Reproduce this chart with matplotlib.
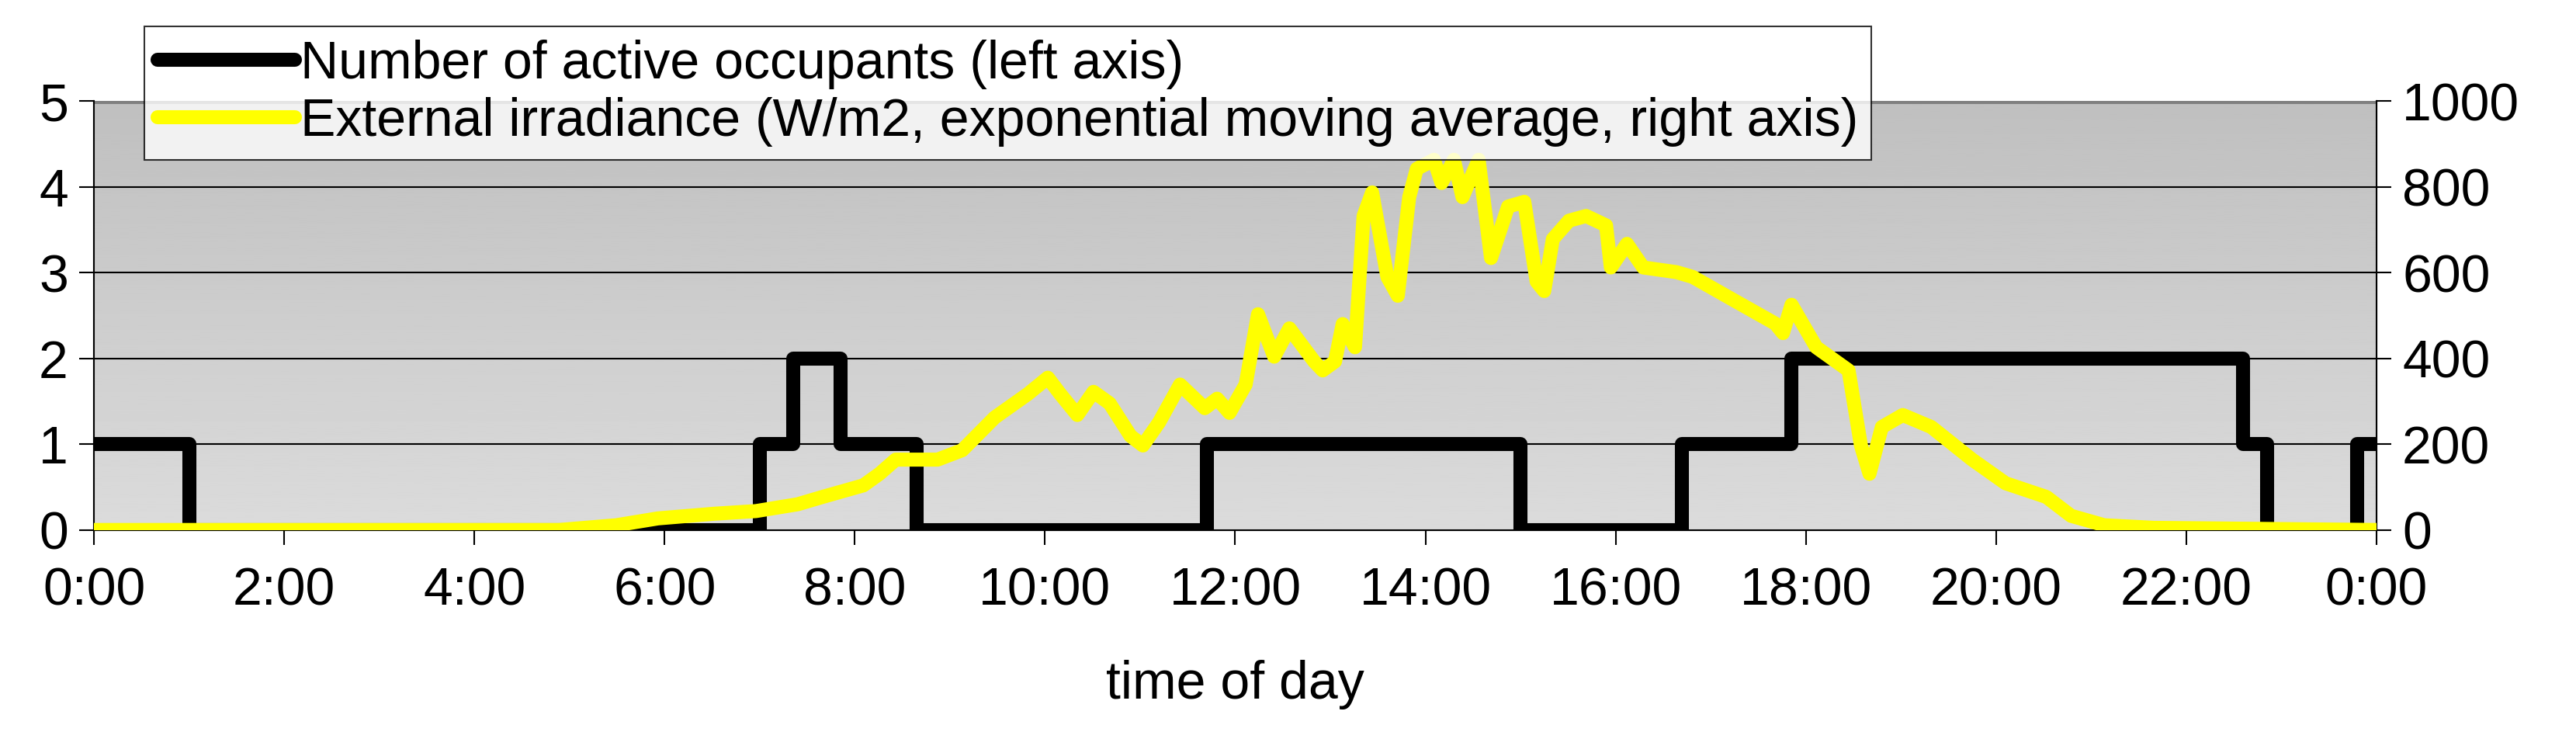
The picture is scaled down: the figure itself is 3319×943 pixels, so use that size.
import numpy as np
import matplotlib.pyplot as plt

# occupants step function: change times (h) and level after each change
occ_times = [0, 1.0, 7.0, 7.35, 7.85, 8.65, 11.7, 15.0, 16.7, 17.85, 22.6, 22.85, 23.8, 24]
occ_levels = [1, 0, 1, 2, 1, 0, 1, 0, 1, 2, 1, 0, 1, 1]

irr_hours = [0, 4.89, 5.49, 5.93, 6.53, 6.96, 7.4, 7.66, 8.09, 8.26, 8.43, 8.87, 9.13, 9.47,
             9.82, 10.03, 10.16, 10.34, 10.51, 10.68, 10.9, 11.03, 11.2, 11.42, 11.68, 11.81,
             11.94, 12.11, 12.24, 12.41, 12.57, 12.83, 12.92, 13.05, 13.13, 13.26, 13.35, 13.44,
             13.6, 13.71, 13.83, 13.91, 14.09, 14.17, 14.3, 14.39, 14.56, 14.69, 14.87, 15.04,
             15.17, 15.25, 15.34, 15.51, 15.69, 15.9, 15.95, 16.12, 16.29, 16.64, 16.81, 17.24,
             17.68, 17.76, 17.85, 18.11, 18.45, 18.58, 18.67, 18.8, 19.02, 19.32, 19.75, 20.1,
             20.53, 20.79, 21.14, 21.66, 24]
irr_values = [0, 0, 11, 27, 38, 44, 60, 77, 104, 131, 164, 164, 186, 262,
              317, 355, 317, 268, 322, 295, 219, 197, 251, 339, 284, 306,
              273, 339, 503, 404, 470, 393, 372, 393, 480, 426, 732, 787,
              590, 546, 776, 842, 863, 809, 863, 776, 863, 634, 754, 765,
              579, 557, 678, 721, 732, 710, 612, 667, 612, 601, 590, 536,
              481, 459, 525, 426, 372, 197, 131, 240, 268, 240, 164, 109,
              77, 33, 11, 5, 0]

tick_hours = list(range(0, 25, 2))
tick_labels = ["%d:00" % (h % 24) for h in tick_hours]

plt.rcParams['font.family'] = ['Liberation Sans Narrow', 'Liberation Sans', 'DejaVu Sans']
fs = 49
lw = 13

fig = plt.figure(figsize=(33.19, 9.43), dpi=100)
ax = fig.add_axes([0.0365, 0.276, 0.886, 0.586])
ax2 = ax.twinx()

# gray gradient background
grad = np.linspace(0.86, 0.75, 256).reshape(-1, 1)
ax.imshow(grad, cmap='gray', vmin=0, vmax=1, aspect='auto',
          extent=[0, 24, 0, 5], origin='lower', zorder=0)
for y in range(1, 5):
    ax.axhline(y, color='black', lw=1.5, zorder=1)
ax.axhline(5, color='#808080', lw=5, zorder=1)

ax.step(occ_times, occ_levels, where='post', color='black', lw=lw, zorder=3,
        solid_joinstyle='round', solid_capstyle='round')
ax.plot(np.array(irr_hours), np.array(irr_values) / 200.0, color='#ffff00', lw=lw,
        zorder=4, solid_joinstyle='round', solid_capstyle='round')

ax.set_xlim(0, 24)
ax.set_ylim(0, 5)
ax2.set_ylim(0, 1000)
ax.set_xticks(tick_hours)
ax.set_xticklabels(tick_labels)
ax.set_yticks(range(6))
ax2.set_yticks(range(0, 1001, 200))
for a in (ax, ax2):
    a.tick_params(labelsize=fs, length=14, width=1.5, direction='out', pad=10)
    for s in a.spines.values():
        s.set_linewidth(1.5)
ax.spines['top'].set_visible(False)
ax2.spines['top'].set_visible(False)
ax.tick_params(axis='x', pad=20)
ax.set_xlabel("time of day", fontsize=fs, labelpad=40)

ax.set_zorder(ax2.get_zorder() + 1)
ax.patch.set_visible(False)

h1, = ax.plot([], [], color='black', lw=lw, solid_capstyle='round')
h2, = ax.plot([], [], color='#ffff00', lw=lw, solid_capstyle='round')
leg = fig.legend([h1, h2], ["Number of active occupants (left axis)",
                            "External irradiance (W/m2, exponential moving average, right axis)"],
                 loc='upper left', bbox_to_anchor=(0.056, 0.964), fontsize=fs,
                 frameon=True, fancybox=False, handlelength=2.6, handletextpad=0.1,
                 borderpad=0.25, labelspacing=0.15, borderaxespad=0)
leg.get_frame().set_edgecolor('black')
leg.get_frame().set_linewidth(1.5)
leg.set_zorder(10)

fig.savefig("out.png", dpi=100)
